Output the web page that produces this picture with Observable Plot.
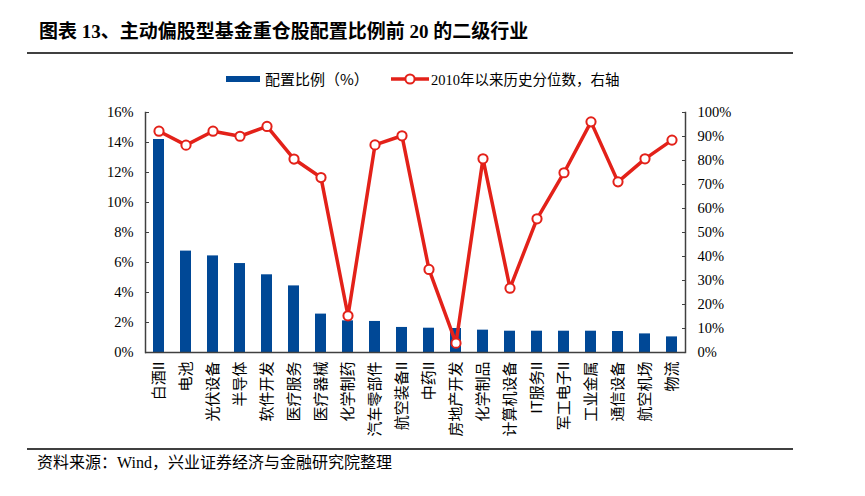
<!DOCTYPE html>
<html><head><meta charset="utf-8">
<script src="https://cdn.jsdelivr.net/npm/d3@7"></script>
<script src="https://cdn.jsdelivr.net/npm/@observablehq/plot@0.6"></script>
<style>
body{margin:0;background:#fff;}
#wrap{position:relative;width:865px;height:496px;overflow:hidden;font-family:"Liberation Serif","Noto Sans CJK SC",serif;color:#000;}
#title{position:absolute;left:39px;top:22px;font-size:19px;line-height:20px;font-weight:bold;white-space:nowrap;}
.hr{position:absolute;left:27px;width:766px;height:2px;background:#404040;}
#legend{position:absolute;left:0;top:66px;}
#chart{position:absolute;left:0;top:95px;}
#source{position:absolute;left:37px;top:454px;font-size:16px;line-height:18px;white-space:nowrap;}
</style></head><body>
<div id="wrap">
  <div id="title">图表 13、主动偏股型基金重仓股配置比例前 20 的二级行业</div>
  <div class="hr" style="top:52px"></div>
  <svg id="legend" width="865" height="26"></svg>
  <div id="chart"></div>
  <div class="hr" style="top:448px"></div>
  <div id="source">资料来源：Wind，兴业证券经济与金融研究院整理</div>
</div>
<script>
const categories = ["白酒II","电池","光伏设备","半导体","软件开发","医疗服务","医疗器械","化学制药","汽车零部件","航空装备II","中药II","房地产开发","化学制品","计算机设备","IT服务II","军工电子II","工业金属","通信设备","航空机场","物流"];
const shareValues = [14.2, 6.76, 6.44, 5.93, 5.18, 4.44, 2.56, 2.11, 2.07, 1.67, 1.62, 1.60, 1.49, 1.42, 1.42, 1.42, 1.42, 1.40, 1.24, 1.04];
const percentileValues = [92.2, 86.4, 92.2, 90.1, 94.2, 80.6, 72.9, 15.3, 86.5, 90.3, 34.6, 3.9, 80.7, 26.8, 55.7, 74.9, 96.1, 71.1, 80.7, 88.5];
const leftTicks = [0, 2, 4, 6, 8, 10, 12, 14, 16];
const rightTicks = [0, 10, 20, 30, 40, 50, 60, 70, 80, 90, 100];
const seriesNames = ["配置比例（%）", "2010年以来历史分位数，右轴"];

const blue = "#004896", red = "#E32119", axisColor = "#404040";
const leftMax = 16, rightMax = 100;
const toLeft = p => p * leftMax / rightMax;

const rows = categories.map((c, i) => ({cat: c, share: shareValues[i], pct: percentileValues[i]}));

const serif = "'Liberation Serif','Times New Roman',serif";
const cjk = "'Noto Sans CJK SC',sans-serif";

const chart = Plot.plot({
  width: 865,
  height: 355,
  marginTop: 17,
  marginBottom: 98,
  marginLeft: 145,
  marginRight: 180,
  style: {background: "transparent", color: "#000"},
  x: {domain: categories, paddingInner: 0.6, paddingOuter: 0.3, label: null},
  y: {domain: [0, leftMax], label: null},
  marks: [
    Plot.barY(rows, {x: "cat", y: "share", fill: blue}),
    Plot.line(rows, {x: "cat", y: d => toLeft(d.pct), stroke: red, strokeWidth: 3.5}),
    Plot.dot(rows, {x: "cat", y: d => toLeft(d.pct), r: 4.6, fill: "white", stroke: red, strokeWidth: 2}),
    Plot.frame({anchor: "left", stroke: axisColor, strokeWidth: 1.5}),
    Plot.frame({anchor: "right", stroke: axisColor, strokeWidth: 1.5}),
    Plot.ruleY([0], {stroke: axisColor, strokeWidth: 1.5}),
    Plot.axisY(leftTicks, {anchor: "left", tickSize: -4, tickPadding: 16, stroke: axisColor,
      tickFormat: d => d + "%", fontFamily: serif, fontSize: 14.5, label: null}),
    Plot.axisY(rightTicks.map(toLeft), {anchor: "right", tickSize: -4, tickPadding: 16, stroke: axisColor,
      tickFormat: (d, i) => rightTicks[i] + "%", fontFamily: serif, fontSize: 14.5, label: null}),
    Plot.axisX({tickRotate: -90, tickSize: 0, tickPadding: 9, fontFamily: cjk, fontSize: 15, label: null})
  ]
});
document.getElementById("chart").appendChild(chart);

// legend
const lg = d3.select("#legend");
lg.append("rect").attr("x", 226).attr("y", 10).attr("width", 34).attr("height", 6).attr("fill", blue);
lg.append("text").attr("x", 265).attr("y", 19).attr("font-size", 15).attr("font-family", cjk + ",serif").text(seriesNames[0]);
lg.append("line").attr("x1", 391).attr("x2", 429).attr("y1", 13).attr("y2", 13).attr("stroke", red).attr("stroke-width", 3.5);
lg.append("circle").attr("cx", 410).attr("cy", 13).attr("r", 4.6).attr("fill", "white").attr("stroke", red).attr("stroke-width", 2);
lg.append("text").attr("x", 431).attr("y", 19).attr("font-size", 14.5).attr("font-family", "'Liberation Serif','Noto Sans CJK SC',serif").text(seriesNames[1]);
</script>
</body></html>
